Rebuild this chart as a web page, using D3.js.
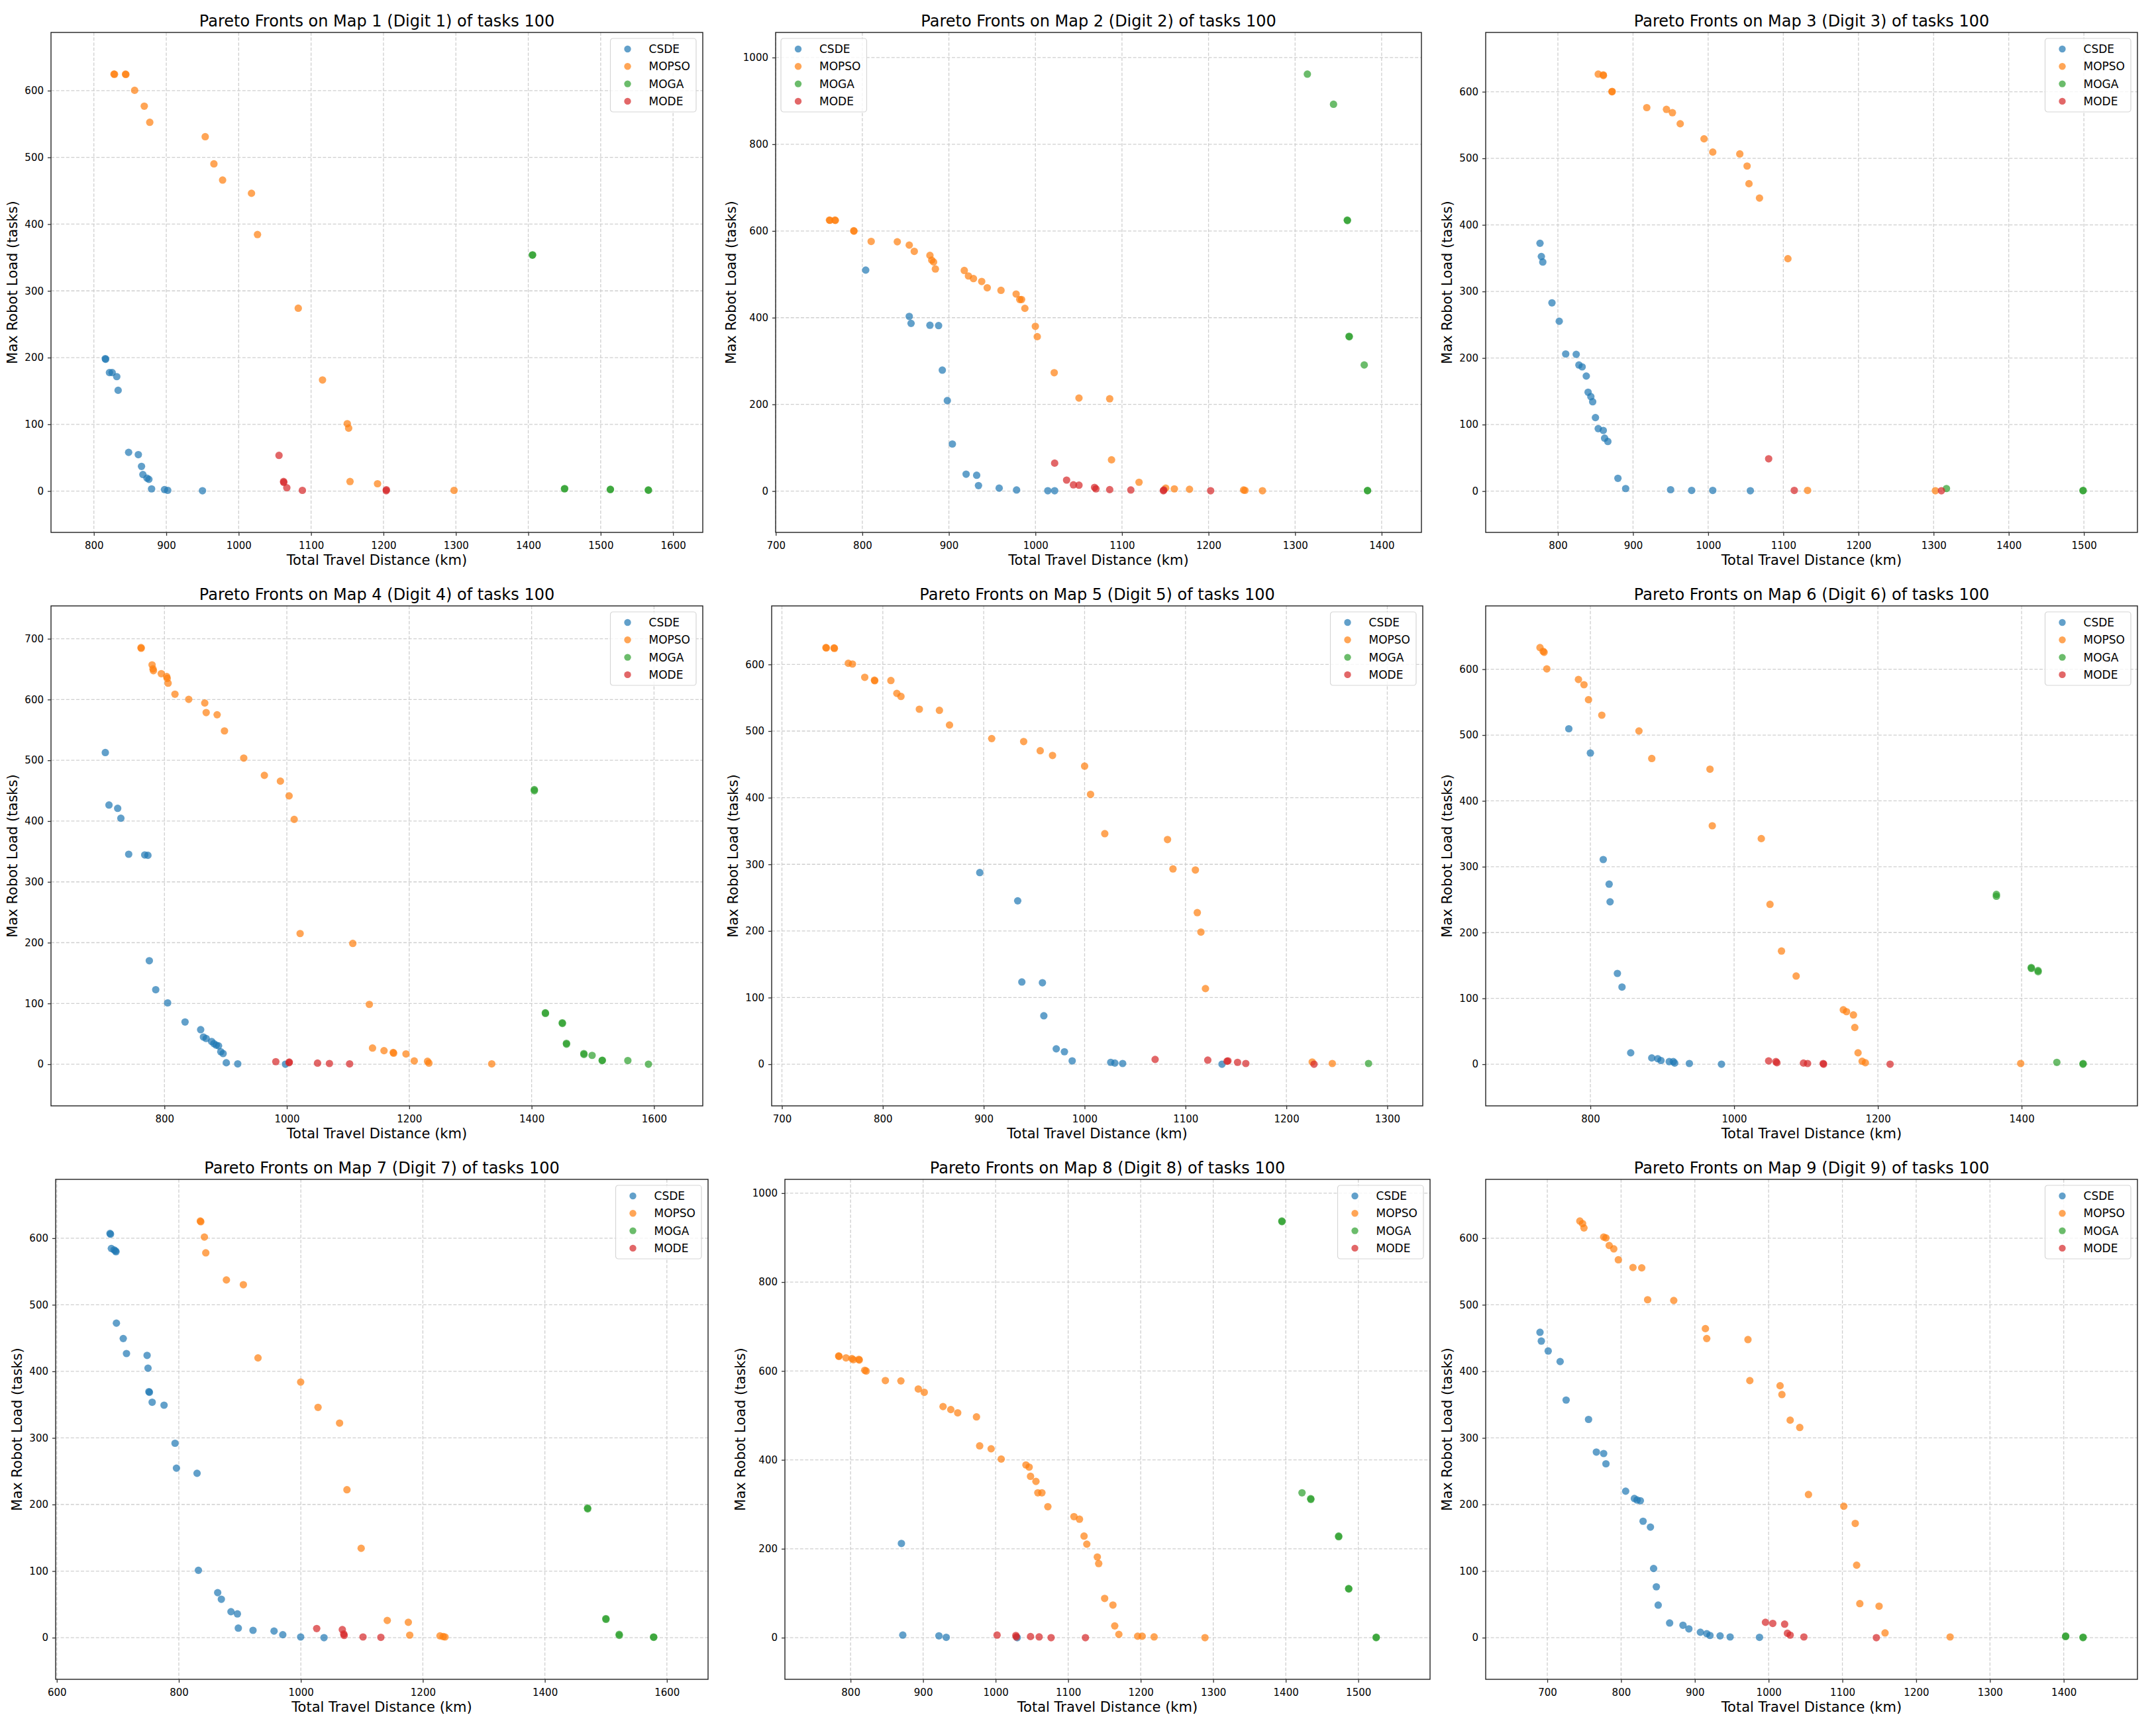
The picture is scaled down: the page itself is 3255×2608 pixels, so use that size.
<!DOCTYPE html>
<html>
<head>
<meta charset="utf-8">
<script src="https://cdnjs.cloudflare.com/ajax/libs/d3/7.8.5/d3.min.js"></script>
<style>
  body { margin: 0; background: #fff; }
  svg { display: block; font-family: "DejaVu Sans", sans-serif; }
</style>
</head>
<body>
<svg id="chart" width="3255" height="2608"></svg>
<script>
// algorithms, drawn in this order
const algorithms = ["CSDE", "MOPSO", "MOGA", "MODE"]
const colors = ["#1f77b4", "#ff7f0e", "#2ca02c", "#d62728"]

// [total travel distance (km), max robot load (tasks)]
const csde1 = [[815.8,198.5],[816.2,197.5],[821.5,177.6],[825.3,177.6],[831.6,171.5],[833.5,151],[848,58],[861.4,54.6],[865.8,37],[867.7,24.8],[873.4,19.3],[876,17.6],[879.7,3.3],[897.5,2.2],[902,1.1],[950,0.5]]
const mopso1 = [[827.8,624.8],[828.5,624.5],[843.7,624.8],[844.2,624.2],[856.3,600.5],[869.6,576.8],[877.2,552.6],[953.8,531],[965.8,490.3],[977.8,466],[1017.7,446.2],[1026,384.4],[1082.3,274],[1115.8,166.5],[1150,101],[1151.9,94.3],[1153.8,14.3],[1191.8,11],[1297.5,1.1]]
const moga1 = [[1405.7,353.5],[1406,354],[1450,3.3],[1450.3,3.8],[1513.3,2.2],[1513.5,2.6],[1565.8,1.7],[1566,1.2]]
const mode1 = [[1055.7,53.5],[1062,14.3],[1062.3,13],[1066.5,5],[1088,1.1],[1203.8,0.5],[1204,2]]

const csde2 = [[803.9,509.8],[854.2,402.9],[856.3,386.8],[878.1,382.5],[888.1,381.7],[892.4,279],[898.2,208.7],[904,108.6],[919.9,39],[932.1,36.5],[934.2,12.7],[958.1,6.8],[978.2,2.5],[1014.3,0.8],[1022.2,0.8]]
const mopso2 = [[762,625.1],[762.5,624.5],[768.4,625.1],[768.8,624.3],[790.1,600.5],[790.3,599.5],[810.2,575.9],[840.4,575.1],[854.2,567.4],[860,553],[878.1,543.7],[880.2,532.7],[882.3,528.4],[884.4,512.3],[917.8,508.9],[922.6,496.2],[928.4,490.2],[937.9,483.5],[944.3,469],[960.2,463.1],[977.7,454.6],[981.9,441.9],[984,441.9],[987.8,421.5],[999.9,380],[1002.1,356.2],[1021.7,273.1],[1050.3,214.6],[1085.8,212.9],[1087.9,72.1],[1119.7,20.4],[1150.5,6.8],[1160.5,5.1],[1178,4.2],[1240.5,2.5],[1242.1,1.7],[1262.3,0.8]]
const moga2 = [[1314.2,961.8],[1344.4,892.3],[1360.3,625.1],[1360.5,624],[1362.4,357.1],[1362.6,356],[1379.9,290.9],[1383.6,0.8],[1383.8,1.5]]
const mode2 = [[1022.2,64.5],[1036,25.4],[1043.9,14.4],[1050.3,13.6],[1068.3,8.5],[1069.9,5.1],[1085.8,3.4],[1110.2,2.5],[1147.8,0.8],[1148.3,2.5],[1202.4,0.8]]

const csde3 = [[776.2,372.4],[778,352.5],[779.9,344.2],[792.1,282.9],[801.8,255.2],[810.4,206.1],[824.4,205.5],[828,189.5],[832.3,186.7],[837.8,172.9],[840.2,148.6],[843.9,142],[846.3,134.3],[850,110.5],[853.7,93.9],[860.4,91.2],[862.2,79.6],[866.5,74.6],[879.9,19.3],[890.2,3.9],[950,2.2],[978,1.1],[1006.1,1.1],[1056.1,0.6]]
const mopso3 = [[853.7,626.5],[860.4,625.4],[860.6,624.3],[872,600],[872.2,600.5],[918.3,576.2],[944.5,573.5],[952.4,568.5],[962.8,551.9],[994.5,529.3],[1006.1,509.4],[1042.1,506.6],[1051.8,488.4],[1054.3,461.9],[1068.3,440.3],[1106.1,349.2],[1132.3,1.1],[1302.4,0.6]]
const moga3 = [[1317.1,3.9],[1498.8,0.6],[1499,1.2]]
const mode3 = [[1080.5,48.6],[1114.6,1.1],[1310.4,0.6]]

const csde4 = [[703.4,512.8],[709.4,426.4],[723.6,421],[728.8,404.7],[741.6,345.5],[767.8,344.3],[773,343.7],[775.3,170.3],[785.8,122.6],[805.2,100.9],[833.7,69.5],[859.2,56.8],[863.7,44.7],[868.2,42.3],[877.1,37.4],[880.9,33.8],[884.6,31.4],[888.4,30.2],[892.1,20.5],[895.9,17.5],[901.1,2.4],[919.8,0.6],[997.7,0]]
const mopso4 = [[761.8,685.5],[762,684.3],[779.8,657.1],[781.3,650.4],[782,647.5],[794.8,642.6],[803.7,637.8],[804.5,634.8],[806,626.9],[817.2,608.8],[839.7,600.3],[865.9,594.3],[868.2,578.6],[886.1,575],[898.1,548.4],[929.6,503.7],[963.3,475.3],[989.5,465.7],[1003.7,441.5],[1012,402.8],[1021.7,215],[1107.8,198.7],[1134.8,98.4],[1140,26.6],[1158.8,22.3],[1173.8,19.3],[1174.5,18.1],[1194.7,16.9],[1208.2,5.4],[1229.9,4.8],[1232.2,1.8],[1334.8,0.6]]
const moga4 = [[1404.4,451.8],[1404.5,450],[1422.4,84.6],[1422.6,83.5],[1450.1,68.2],[1450.3,67],[1456.9,34.4],[1457,33],[1485.3,17.5],[1485.5,16],[1498.8,14.5],[1515.3,6],[1515.5,6.5],[1557.2,6],[1590.9,0]]
const mode4 = [[982,4.2],[1003.7,2.4],[1004,3.5],[1050.2,1.8],[1069.6,1.2],[1102.6,0.6]]

const csde5 = [[896.1,287.6],[933.7,245.2],[937.8,123.4],[958.2,122.3],[959.6,72.7],[971.9,23.1],[980,18.7],[987.7,5],[1025.9,2.8],[1030,1.7],[1037.7,1.1],[1136.2,0]]
const mopso5 = [[743.6,625.3],[744,624.8],[751.7,624.8],[752,624],[765.8,601.7],[769.9,600.6],[782.1,580.7],[791.7,576.3],[792,575.5],[808,575.8],[813.9,556.5],[818,552],[836.2,532.8],[856.1,531.1],[866.1,509.1],[907.9,488.7],[939.6,484.3],[956,470.5],[968.2,463.4],[1000,447.4],[1005.9,405],[1020,346],[1082.2,337.2],[1087.6,293.1],[1109.8,291.5],[1111.7,227.5],[1115.3,198.3],[1119.8,113.5],[1225.6,3.3],[1245.5,1.1]]
const moga5 = [[1281.4,1.1]]
const mode5 = [[1069.9,7.2],[1122.1,6.1],[1141.2,4.4],[1142.1,5],[1151.6,2.8],[1159.8,1.1],[1227.4,0]]

const csde6 = [[770,509.6],[800,472.7],[817.9,310.9],[826.1,273.5],[827.4,246.7],[837.6,137.9],[844,117.2],[856.1,17.3],[885.4,9.5],[893.7,8.4],[898.2,5.6],[909.7,3.9],[915.4,3.9],[917.3,1.7],[937.7,1.1],[982.4,0]]
const mopso6 = [[729.9,632.9],[734.3,627.3],[735.6,625.7],[739.4,600.5],[783.4,584.4],[791.1,576.5],[797.4,553.7],[815.9,530.2],[867.6,506.2],[885.4,464.4],[966.4,448.2],[969.6,362.2],[1037.8,342.7],[1049.9,242.8],[1065.9,171.9],[1086.3,133.9],[1151.9,82.6],[1156.4,79.8],[1166,74.8],[1167.9,55.8],[1172.4,17.3],[1178.1,4.5],[1182.6,2.2],[1398.7,1.1]]
const moga6 = [[1364.9,257.9],[1364.9,255.1],[1413.4,146.8],[1413.6,145.5],[1422.9,142.3],[1423,140.5],[1449,2.8],[1485.4,0],[1485.6,1]]
const mode6 = [[1048,5],[1058.2,3.9],[1059.5,2.2],[1096.5,1.7],[1102.2,1.1],[1123.9,1.1],[1124.5,0],[1217,0]]

const csde7 = [[687.2,607.2],[688,606],[689.4,584.6],[693.9,582.4],[696.2,580.8],[697,579.7],[697.7,472.4],[708.9,449.3],[714.2,426.8],[748,424],[749.5,404.8],[751,369.6],[751.8,368.5],[756.3,353.6],[775.8,349.2],[793.8,292],[796.1,254.6],[829.9,246.9],[832.1,101.2],[863.7,67.6],[869.7,57.7],[885.5,39],[896,35.7],[897.5,14.3],[921.6,11],[956.1,9.9],[970.4,4.4],[999.7,1.1],[1038,0]]
const mopso7 = [[835.2,625.8],[836,624.8],[841.9,601.7],[844.2,578],[878,537.3],[905.8,530.2],[929.8,420.2],[999.7,383.9],[1028.2,345.9],[1063.5,322.3],[1075.6,222.2],[1098.9,134.2],[1141.7,25.8],[1176.2,23.1],[1178.5,3.8],[1228.1,2.7],[1233.3,1.6],[1236.3,1.1]]
const moga7 = [[1470,194.7],[1470.2,193.5],[1500,28.6],[1500.2,27.5],[1521.8,4.9],[1522,3.5],[1578.2,1.1],[1578.4,0.5]]
const mode7 = [[1026,13.7],[1068,12.1],[1070.3,5.5],[1071,3.3],[1101.9,1.1],[1131.2,0.5]]

const csde8 = [[870.1,212],[872,5.8],[921.8,4.1],[931.9,0.8],[1029.8,0]]
const mopso8 = [[783.6,633.7],[784,632.8],[793.7,629.5],[801.9,627.9],[803.8,625.4],[811.4,626.2],[812,624.6],[819.6,601.5],[821.5,599.8],[848,578.4],[869.4,577.6],[893.4,559.4],[901.6,552],[927.5,519.8],[938.2,513.2],[947.7,505.8],[973.6,496.7],[978,431.5],[993.8,424.9],[1007.7,401.8],[1041.8,388.6],[1046.2,383.7],[1048.1,363],[1055.6,351.5],[1058.2,325.9],[1063.8,325.9],[1072,294.6],[1108,272.3],[1115.6,266.5],[1121.9,228.5],[1125.7,210.4],[1140.2,181.5],[1142.1,166.7],[1150.3,88.3],[1161.7,73.4],[1164.2,26.4],[1169.9,7.4],[1195.8,3.3],[1202.1,3.3],[1218.5,1.7],[1288.6,0]]
const moga8 = [[1394.6,937.3],[1394.8,936],[1422.4,325.9],[1434.4,312.7],[1434.6,311],[1472.9,228.5],[1473,227],[1486.7,110.6],[1486.9,109.5],[1524.6,0],[1524.8,1]]
const mode8 = [[1002,5.8],[1027.9,5],[1028.5,1.7],[1048.1,2.5],[1060,1.7],[1076.5,0],[1123.8,0]]

const csde9 = [[690.1,458.7],[691.9,445.5],[701.2,430.6],[717.4,414.7],[725.5,356.9],[755.9,327.8],[766.5,278.8],[776.4,276.6],[779.5,261.2],[806.2,220],[818,209],[821.7,206.8],[826.1,205.7],[829.8,174.9],[839.8,166.1],[844.1,103.9],[847.8,76.4],[850.3,48.9],[865.8,22],[883.9,18.7],[891.9,13.2],[907.5,8.2],[916.1,6],[920.5,3.3],[934.2,2.7],[947.8,1.1],[987.6,0.5]]
const mopso9 = [[744.1,625.8],[747.8,622],[749.7,615.4],[776.4,601.7],[779.5,600.5],[783.9,589],[790.1,584],[796.3,567.6],[816.1,556],[828,555.5],[836,507.6],[871.4,506.5],[914.3,464.2],[916.1,449.3],[972,447.7],[974.5,386.1],[1015.5,378.4],[1018,365.2],[1029.2,326.7],[1042.2,315.7],[1054,215],[1101.9,197.4],[1117.4,171.6],[1119.3,108.9],[1123.6,51.1],[1149.7,47.3],[1157.8,7.1],[1246,1.1]]
const moga9 = [[1402.5,1.6],[1402.7,2.4],[1426.1,0],[1426.3,0.8]]
const mode9 = [[995.7,23.1],[1005.6,21.4],[1021.7,20.3],[1025.5,6.6],[1029.2,3.8],[1047.8,1.1],[1146,0]]

// tick values per map
const xTicks = [
  [800,900,1000,1100,1200,1300,1400,1500,1600],
  [700,800,900,1000,1100,1200,1300,1400],
  [800,900,1000,1100,1200,1300,1400,1500],
  [800,1000,1200,1400,1600],
  [700,800,900,1000,1100,1200,1300],
  [800,1000,1200,1400],
  [600,800,1000,1200,1400,1600],
  [800,900,1000,1100,1200,1300,1400,1500],
  [700,800,900,1000,1100,1200,1300,1400]
]
const yTicks = [
  [0,100,200,300,400,500,600],
  [0,200,400,600,800,1000],
  [0,100,200,300,400,500,600],
  [0,100,200,300,400,500,600,700],
  [0,100,200,300,400,500,600],
  [0,100,200,300,400,500,600],
  [0,100,200,300,400,500,600],
  [0,200,400,600,800,1000],
  [0,100,200,300,400,500,600]
]

const maps = [
  [csde1, mopso1, moga1, mode1],
  [csde2, mopso2, moga2, mode2],
  [csde3, mopso3, moga3, mode3],
  [csde4, mopso4, moga4, mode4],
  [csde5, mopso5, moga5, mode5],
  [csde6, mopso6, moga6, mode6],
  [csde7, mopso7, moga7, mode7],
  [csde8, mopso8, moga8, mode8],
  [csde9, mopso9, moga9, mode9]
]

// axes boxes (pixels), as laid out in the picture
const frames = [
  {left: 77, right: 1061, top: 49, bottom: 804, legend: "right"},
  {left: 1171, right: 2146, top: 49, bottom: 804, legend: "left"},
  {left: 2243, right: 3227, top: 49, bottom: 804, legend: "right"},
  {left: 77, right: 1061, top: 915, bottom: 1670, legend: "right"},
  {left: 1165, right: 2148, top: 915, bottom: 1670, legend: "right"},
  {left: 2243, right: 3227, top: 915, bottom: 1670, legend: "right"},
  {left: 84, right: 1069, top: 1781, bottom: 2536, legend: "right"},
  {left: 1185, right: 2159, top: 1781, bottom: 2536, legend: "right"},
  {left: 2243, right: 3227, top: 1781, bottom: 2536, legend: "right"}
]

const svg = d3.select("#chart")

function padded(values) {
  let [lo, hi] = d3.extent(values)
  let pad = (hi - lo) * 0.1
  return [lo - pad, hi + pad]
}

maps.forEach((series, i) => {
  let f = frames[i]
  let all = series.flat()
  let x = d3.scaleLinear().domain(padded(all.map(d => d[0]))).range([f.left, f.right])
  let y = d3.scaleLinear().domain(padded(all.map(d => d[1]))).range([f.bottom, f.top])
  let g = svg.append("g")

  // grid
  g.append("g").selectAll("line").data(xTicks[i]).join("line")
    .attr("x1", d => x(d)).attr("x2", d => x(d))
    .attr("y1", f.top).attr("y2", f.bottom)
  g.append("g").selectAll("line").data(yTicks[i]).join("line")
    .attr("x1", f.left).attr("x2", f.right)
    .attr("y1", d => y(d)).attr("y2", d => y(d))
  g.selectAll("line")
    .attr("stroke", "#cfcfcf")
    .attr("stroke-width", 1.3)
    .attr("stroke-dasharray", "5,2.6")

  // points
  series.forEach((pts, k) => {
    g.append("g").selectAll("circle").data(pts).join("circle")
      .attr("cx", d => x(d[0]))
      .attr("cy", d => y(d[1]))
      .attr("r", 5.6)
      .attr("fill", colors[k])
      .attr("fill-opacity", 0.7)
  })

  // frame
  g.append("rect")
    .attr("x", f.left).attr("y", f.top)
    .attr("width", f.right - f.left).attr("height", f.bottom - f.top)
    .attr("fill", "none").attr("stroke", "#222").attr("stroke-width", 1.4)

  // axes
  let xa = g.append("g").attr("transform", `translate(0,${f.bottom})`)
    .call(d3.axisBottom(x).tickValues(xTicks[i]).tickSize(5).tickPadding(6).tickFormat(d3.format("d")))
  let ya = g.append("g").attr("transform", `translate(${f.left},0)`)
    .call(d3.axisLeft(y).tickValues(yTicks[i]).tickSize(5).tickPadding(6).tickFormat(d3.format("d")))
  ;[xa, ya].forEach(a => {
    a.select(".domain").remove()
    a.selectAll(".tick line").attr("stroke", "#333").attr("stroke-width", 1.3)
    a.selectAll(".tick text")
      .attr("font-family", "DejaVu Sans")
      .attr("font-size", 15)
      .attr("fill", "#000")
  })
  xa.selectAll(".tick text").attr("dy", "0.95em")

  let tickW = d3.max(ya.selectAll(".tick text").nodes(), n => n.getComputedTextLength())

  // titles
  g.append("text")
    .attr("x", (f.left + f.right) / 2).attr("y", f.top - 9)
    .attr("text-anchor", "middle").attr("font-size", 24)
    .text(`Pareto Fronts on Map ${i + 1} (Digit ${i + 1}) of tasks 100`)
  g.append("text")
    .attr("x", (f.left + f.right) / 2).attr("y", f.bottom + 49)
    .attr("text-anchor", "middle").attr("font-size", 21)
    .text("Total Travel Distance (km)")
  let cy = (f.top + f.bottom) / 2
  let cx = f.left - tickW - 29
  g.append("text")
    .attr("transform", `translate(${cx},${cy}) rotate(-90)`)
    .attr("text-anchor", "middle").attr("dominant-baseline", "central")
    .attr("font-size", 21)
    .text("Max Robot Load (tasks)")

  // legend
  let leg = g.append("g")
  let box = leg.append("rect")
  let rows = leg.selectAll("g").data(algorithms).join("g")
    .attr("transform", (d, k) => `translate(0,${16 + k * 26.3})`)
  rows.append("circle")
    .attr("cx", 26).attr("r", 5.2)
    .attr("fill", (d, k) => colors[k]).attr("fill-opacity", 0.7)
  rows.append("text")
    .attr("x", 58).attr("dominant-baseline", "central")
    .attr("font-size", 17)
    .text(d => d)
  let textW = d3.max(rows.selectAll("text").nodes(), n => n.getComputedTextLength())
  let lw = 58 + textW + 9, lh = 111
  box.attr("width", lw).attr("height", lh).attr("rx", 4)
    .attr("fill", "#fff").attr("fill-opacity", 0.8)
    .attr("stroke", "#d6d6d6").attr("stroke-width", 1.2)
  let lx = f.legend === "left" ? f.left + 8 : f.right - 10 - lw
  leg.attr("transform", `translate(${lx},${f.top + 9})`)
})
</script>
</body>
</html>
